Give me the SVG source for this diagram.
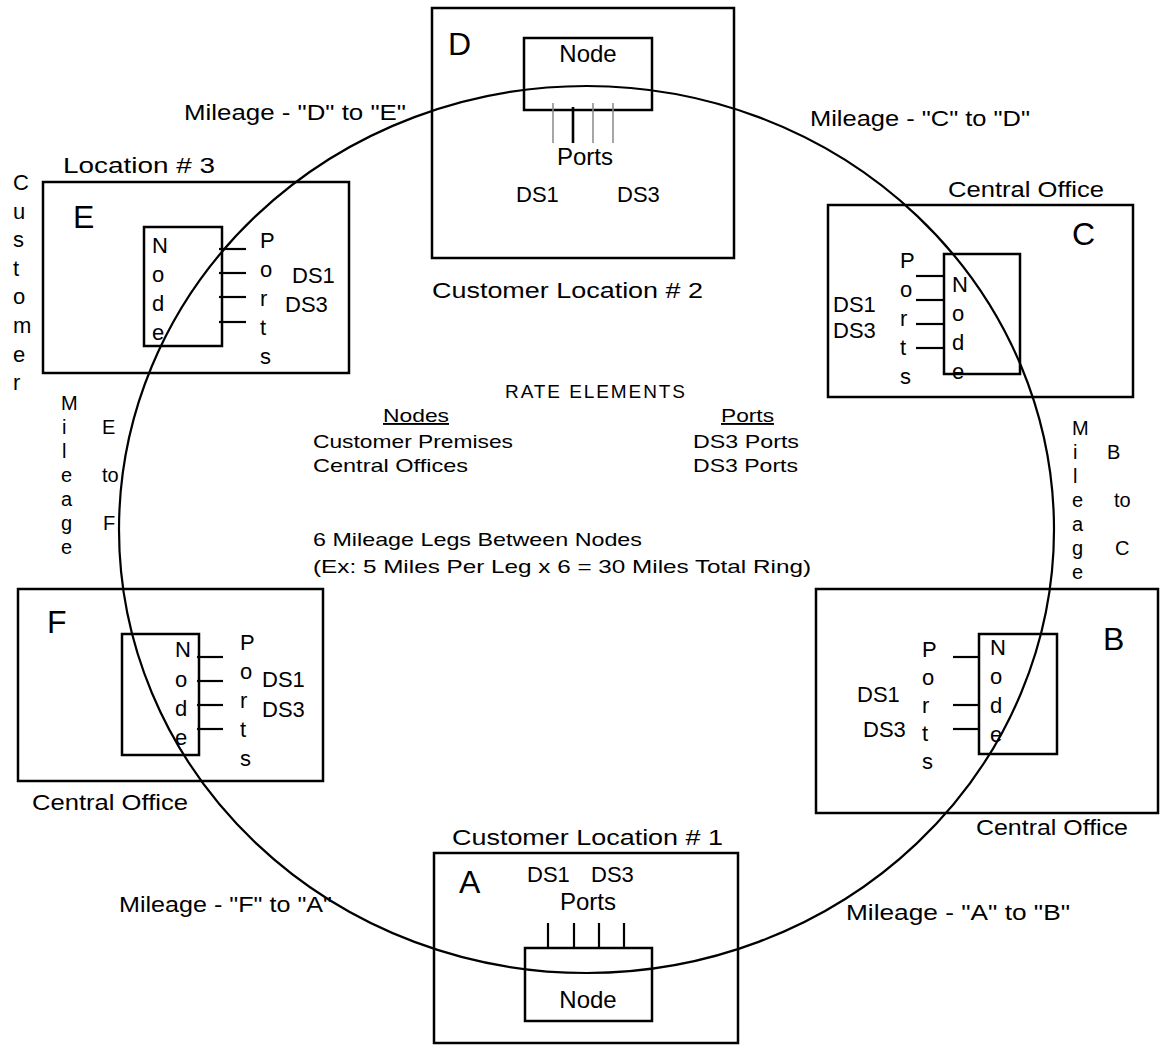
<svg xmlns="http://www.w3.org/2000/svg" width="1160" height="1045" viewBox="0 0 1160 1045">
<style>
text{font-family:"Liberation Sans",Arial,sans-serif;fill:#000}
.lb{font-size:22px}
.big{font-size:32px}
.nd{font-size:24px}
.ctr{font-size:19px}
.vt{font-size:20px}
.box{fill:none;stroke:#000;stroke-width:2.5}
.inner{fill:none;stroke:#000;stroke-width:2.5}
.port{stroke:#000;stroke-width:2.2}
.gport{stroke:#888;stroke-width:1.5}
.ring{fill:none;stroke:#000;stroke-width:2.2}
</style>
<rect width="1160" height="1045" fill="#fff"/>

<g id="connectors">
<ellipse class="ring" cx="586.5" cy="529.5" rx="467.5" ry="443.5"/>
</g>

<g id="node-D">
<rect class="box" x="432" y="8" width="302" height="250"/>
<rect class="inner" x="524" y="38" width="128" height="72"/>
<text class="big" x="448" y="55">D</text>
<text class="nd" x="588" y="62" text-anchor="middle">Node</text>
<line class="gport" x1="553" y1="103" x2="553" y2="143"/>
<line class="port" x1="573" y1="107" x2="573" y2="143" style="stroke-width:2.6"/>
<line class="gport" x1="593" y1="103" x2="593" y2="143"/>
<line class="gport" x1="613" y1="103" x2="613" y2="143"/>
<text class="nd" x="557" y="165">Ports</text>
<text class="lb" x="516" y="202">DS1</text>
<text class="lb" x="617" y="202">DS3</text>
<text class="lb" x="432" y="298" textLength="271" lengthAdjust="spacingAndGlyphs">Customer Location  #  2</text>
</g>

<g id="node-E">
<rect class="box" x="43" y="182" width="306" height="191"/>
<rect class="inner" x="144" y="227" width="78" height="119"/>
<text class="big" x="73" y="228">E</text>
<text class="lb" x="152" y="253">N</text>
<text class="lb" x="152" y="282">o</text>
<text class="lb" x="152" y="311">d</text>
<text class="lb" x="152" y="340">e</text>
<line class="port" x1="219" y1="249" x2="246" y2="249"/>
<line class="port" x1="219" y1="273" x2="246" y2="273"/>
<line class="port" x1="219" y1="297" x2="246" y2="297"/>
<line class="port" x1="219" y1="322" x2="246" y2="322"/>
<text class="lb" x="260" y="248">P</text>
<text class="lb" x="260" y="277">o</text>
<text class="lb" x="260" y="306">r</text>
<text class="lb" x="260" y="335">t</text>
<text class="lb" x="260" y="364">s</text>
<text class="lb" x="292" y="283">DS1</text>
<text class="lb" x="285" y="312">DS3</text>
<text class="lb" x="63" y="173" textLength="152" lengthAdjust="spacingAndGlyphs">Location  #  3</text>
<text class="lb" x="13" y="190">C</text>
<text class="lb" x="13" y="219">u</text>
<text class="lb" x="13" y="247">s</text>
<text class="lb" x="13" y="276">t</text>
<text class="lb" x="13" y="304">o</text>
<text class="lb" x="13" y="333">m</text>
<text class="lb" x="13" y="362">e</text>
<text class="lb" x="13" y="390">r</text>
</g>

<g id="node-C">
<rect class="box" x="828" y="205" width="305" height="192"/>
<rect class="inner" x="944" y="254" width="76" height="120"/>
<text class="big" x="1072" y="245">C</text>
<text class="lb" x="948" y="197" textLength="156" lengthAdjust="spacingAndGlyphs">Central Office</text>
<line class="port" x1="916" y1="276" x2="944" y2="276"/>
<line class="port" x1="916" y1="300" x2="944" y2="300"/>
<line class="port" x1="916" y1="324" x2="944" y2="324"/>
<line class="port" x1="916" y1="348" x2="944" y2="348"/>
<text class="lb" x="900" y="268">P</text>
<text class="lb" x="900" y="297">o</text>
<text class="lb" x="900" y="326">r</text>
<text class="lb" x="900" y="355">t</text>
<text class="lb" x="900" y="384">s</text>
<text class="lb" x="952" y="292">N</text>
<text class="lb" x="952" y="321">o</text>
<text class="lb" x="952" y="350">d</text>
<text class="lb" x="952" y="379">e</text>
<text class="lb" x="833" y="312">DS1</text>
<text class="lb" x="833" y="338">DS3</text>
</g>

<g id="node-B">
<rect class="box" x="816" y="589" width="342" height="224"/>
<rect class="inner" x="979" y="634" width="78" height="120"/>
<text class="big" x="1103" y="650">B</text>
<line class="port" x1="953" y1="657" x2="979" y2="657"/>
<line class="port" x1="953" y1="705" x2="979" y2="705"/>
<line class="port" x1="953" y1="729" x2="979" y2="729"/>
<text class="lb" x="922" y="657">P</text>
<text class="lb" x="922" y="685">o</text>
<text class="lb" x="922" y="713">r</text>
<text class="lb" x="922" y="741">t</text>
<text class="lb" x="922" y="769">s</text>
<text class="lb" x="990" y="655">N</text>
<text class="lb" x="990" y="684">o</text>
<text class="lb" x="990" y="713">d</text>
<text class="lb" x="990" y="742">e</text>
<text class="lb" x="857" y="702">DS1</text>
<text class="lb" x="863" y="737">DS3</text>
<text class="lb" x="976" y="835" textLength="152" lengthAdjust="spacingAndGlyphs">Central Office</text>
</g>

<g id="node-A">
<rect class="box" x="434" y="853" width="304" height="190"/>
<rect class="inner" x="525" y="948" width="127" height="73"/>
<text class="big" x="459" y="893">A</text>
<line class="port" x1="548" y1="923" x2="548" y2="948"/>
<line class="port" x1="574" y1="923" x2="574" y2="948"/>
<line class="port" x1="599" y1="923" x2="599" y2="948"/>
<line class="port" x1="624" y1="923" x2="624" y2="948"/>
<text class="nd" x="588" y="1008" text-anchor="middle">Node</text>
<text class="nd" x="560" y="910">Ports</text>
<text class="lb" x="527" y="882">DS1</text>
<text class="lb" x="591" y="882">DS3</text>
<text class="lb" x="452" y="845" textLength="271" lengthAdjust="spacingAndGlyphs">Customer Location  #  1</text>
</g>

<g id="node-F">
<rect class="box" x="18" y="589" width="305" height="192"/>
<rect class="inner" x="122" y="634" width="77" height="121"/>
<text class="big" x="47" y="633">F</text>
<line class="port" x1="197" y1="657" x2="223" y2="657"/>
<line class="port" x1="197" y1="681" x2="223" y2="681"/>
<line class="port" x1="197" y1="705" x2="223" y2="705"/>
<line class="port" x1="197" y1="729" x2="223" y2="729"/>
<text class="lb" x="175" y="657">N</text>
<text class="lb" x="175" y="687">o</text>
<text class="lb" x="175" y="716">d</text>
<text class="lb" x="175" y="745">e</text>
<text class="lb" x="240" y="650">P</text>
<text class="lb" x="240" y="679">o</text>
<text class="lb" x="240" y="708">r</text>
<text class="lb" x="240" y="737">t</text>
<text class="lb" x="240" y="766">s</text>
<text class="lb" x="262" y="687">DS1</text>
<text class="lb" x="262" y="717">DS3</text>
<text class="lb" x="32" y="810" textLength="156" lengthAdjust="spacingAndGlyphs">Central Office</text>
</g>

<g id="mileage-labels">
<text class="lb" x="184" y="120" textLength="222" lengthAdjust="spacingAndGlyphs">Mileage - "D" to "E"</text>
<text class="lb" x="810" y="126" textLength="220" lengthAdjust="spacingAndGlyphs">Mileage - "C" to "D"</text>
<text class="lb" x="119" y="912" textLength="213" lengthAdjust="spacingAndGlyphs">Mileage - "F" to "A"</text>
<text class="lb" x="846" y="920" textLength="224" lengthAdjust="spacingAndGlyphs">Mileage - "A" to "B"</text>
<text class="vt" x="61" y="410">M</text>
<text class="vt" x="62" y="434">i</text>
<text class="vt" x="62" y="458">l</text>
<text class="vt" x="61" y="482">e</text>
<text class="vt" x="61" y="506">a</text>
<text class="vt" x="61" y="530">g</text>
<text class="vt" x="61" y="554">e</text>
<text class="vt" x="102" y="434">E</text>
<text class="vt" x="102" y="482">to</text>
<text class="vt" x="103" y="530">F</text>
<text class="vt" x="1072" y="435">M</text>
<text class="vt" x="1073" y="459">i</text>
<text class="vt" x="1073" y="483">l</text>
<text class="vt" x="1072" y="507">e</text>
<text class="vt" x="1072" y="531">a</text>
<text class="vt" x="1072" y="555">g</text>
<text class="vt" x="1072" y="579">e</text>
<text class="vt" x="1107" y="459">B</text>
<text class="vt" x="1114" y="507">to</text>
<text class="vt" x="1115" y="555">C</text>
</g>

<g id="rate-elements">
<text class="ctr" x="505" y="398" textLength="180" lengthAdjust="spacing">RATE ELEMENTS</text>
<text class="ctr" x="383" y="422" textLength="66" lengthAdjust="spacingAndGlyphs" text-decoration="underline">Nodes</text>
<text class="ctr" x="721" y="422" textLength="53" lengthAdjust="spacingAndGlyphs" text-decoration="underline">Ports</text>
<text class="ctr" x="313" y="448" textLength="200" lengthAdjust="spacingAndGlyphs">Customer Premises</text>
<text class="ctr" x="313" y="472" textLength="155" lengthAdjust="spacingAndGlyphs">Central Offices</text>
<text class="ctr" x="693" y="448" textLength="106" lengthAdjust="spacingAndGlyphs">DS3 Ports</text>
<text class="ctr" x="693" y="472" textLength="105" lengthAdjust="spacingAndGlyphs">DS3 Ports</text>
<text class="ctr" x="313" y="546" textLength="329" lengthAdjust="spacingAndGlyphs">6 Mileage Legs Between Nodes</text>
<text class="ctr" x="313" y="573" textLength="498" lengthAdjust="spacingAndGlyphs">(Ex: 5 Miles Per Leg x 6 =  30 Miles Total Ring)</text>
</g>
</svg>
